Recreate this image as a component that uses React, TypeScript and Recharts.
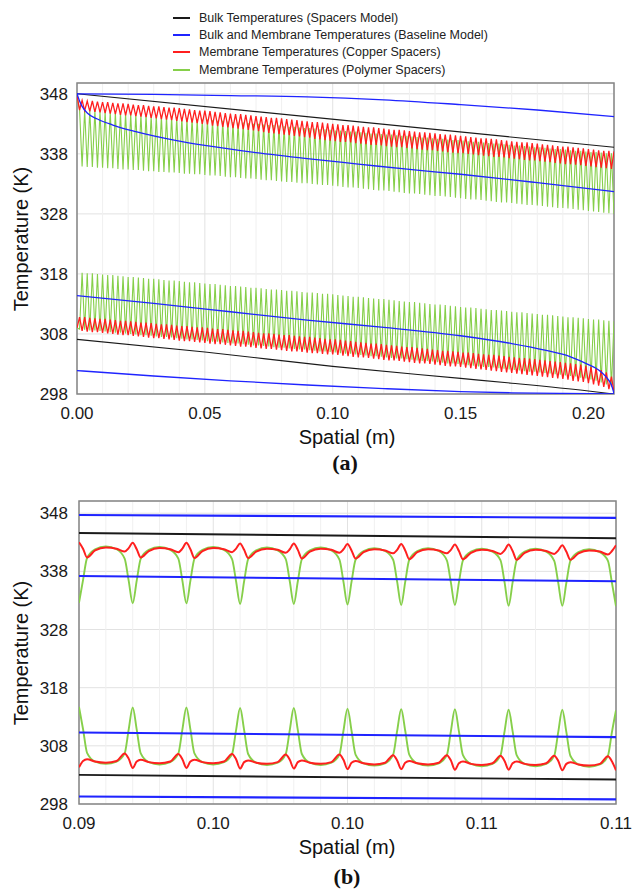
import { CartesianGrid, Line, LineChart, ReferenceArea, ReferenceLine, XAxis, YAxis } from 'recharts';

const FONT = '"Liberation Sans", Arial, Helvetica, sans-serif';
const BLACK = '#1a1a1a';
const BLUE = '#1f24ff';
const RED = '#ff1f1f';
const GREEN = '#86cf4a';
const GRID = '#e2e2e2';
const GRID_MINOR = '#f0f0f0';
const FRAME = '#858585';

const legendItems = [
  { label: 'Bulk Temperatures (Spacers Model)', color: BLACK },
  { label: 'Bulk and Membrane Temperatures (Baseline Model)', color: BLUE },
  { label: 'Membrane Temperatures (Copper Spacers)', color: RED },
  { label: 'Membrane Temperatures (Polymer Spacers)', color: GREEN },
];

const yTicks = [298, 308, 318, 328, 338, 348];

// ---------- panel (a): whole channel ----------
const xTicksA = [0, 0.05, 0.1, 0.15, 0.2];
const xLabelsA = ['0.00', '0.05', '0.10', '0.15', '0.20'];
const xMinorA = [0.01, 0.02, 0.03, 0.04, 0.06, 0.07, 0.08, 0.09, 0.11, 0.12, 0.13, 0.14, 0.16, 0.17, 0.18, 0.19];

// spacer positions (m) and the points half way between them
const spacerA = [
  0, 0.002, 0.004, 0.006, 0.008, 0.01, 0.012, 0.014, 0.016, 0.018,
  0.02, 0.022, 0.024, 0.026, 0.028, 0.03, 0.032, 0.034, 0.036, 0.038,
  0.04, 0.042, 0.044, 0.046, 0.048, 0.05, 0.052, 0.054, 0.056, 0.058,
  0.06, 0.062, 0.064, 0.066, 0.068, 0.07, 0.072, 0.074, 0.076, 0.078,
  0.08, 0.082, 0.084, 0.086, 0.088, 0.09, 0.092, 0.094, 0.096, 0.098,
  0.1, 0.102, 0.104, 0.106, 0.108, 0.11, 0.112, 0.114, 0.116, 0.118,
  0.12, 0.122, 0.124, 0.126, 0.128, 0.13, 0.132, 0.134, 0.136, 0.138,
  0.14, 0.142, 0.144, 0.146, 0.148, 0.15, 0.152, 0.154, 0.156, 0.158,
  0.16, 0.162, 0.164, 0.166, 0.168, 0.17, 0.172, 0.174, 0.176, 0.178,
  0.18, 0.182, 0.184, 0.186, 0.188, 0.19, 0.192, 0.194, 0.196, 0.198,
  0.2, 0.202, 0.204, 0.206, 0.208, 0.21,
];
const midA = [
  0.001, 0.003, 0.005, 0.007, 0.009, 0.011, 0.013, 0.015, 0.017, 0.019,
  0.021, 0.023, 0.025, 0.027, 0.029, 0.031, 0.033, 0.035, 0.037, 0.039,
  0.041, 0.043, 0.045, 0.047, 0.049, 0.051, 0.053, 0.055, 0.057, 0.059,
  0.061, 0.063, 0.065, 0.067, 0.069, 0.071, 0.073, 0.075, 0.077, 0.079,
  0.081, 0.083, 0.085, 0.087, 0.089, 0.091, 0.093, 0.095, 0.097, 0.099,
  0.101, 0.103, 0.105, 0.107, 0.109, 0.111, 0.113, 0.115, 0.117, 0.119,
  0.121, 0.123, 0.125, 0.127, 0.129, 0.131, 0.133, 0.135, 0.137, 0.139,
  0.141, 0.143, 0.145, 0.147, 0.149, 0.151, 0.153, 0.155, 0.157, 0.159,
  0.161, 0.163, 0.165, 0.167, 0.169, 0.171, 0.173, 0.175, 0.177, 0.179,
  0.181, 0.183, 0.185, 0.187, 0.189, 0.191, 0.193, 0.195, 0.197, 0.199,
  0.201, 0.203, 0.205, 0.207, 0.209,
];

// polymer spacers, hot side: dips at each spacer, plateau between
const gUpperSpacerA = [
  347.5, 335.9, 335.8, 335.8, 335.7, 335.7, 335.6, 335.6, 335.5, 335.4,
  335.4, 335.3, 335.3, 335.2, 335.1, 335.1, 335.0, 335.0, 334.9, 334.9,
  334.8, 334.7, 334.7, 334.6, 334.6, 334.5, 334.4, 334.4, 334.3, 334.2,
  334.1, 334.1, 334.0, 333.9, 333.9, 333.8, 333.7, 333.6, 333.6, 333.5,
  333.4, 333.3, 333.3, 333.2, 333.1, 333.1, 333.0, 332.9, 332.8, 332.8,
  332.7, 332.6, 332.5, 332.4, 332.4, 332.3, 332.2, 332.1, 332.0, 331.9,
  331.9, 331.8, 331.7, 331.6, 331.5, 331.4, 331.4, 331.3, 331.2, 331.1,
  331.0, 331.0, 330.9, 330.8, 330.7, 330.6, 330.5, 330.4, 330.4, 330.3,
  330.2, 330.1, 330.0, 329.9, 329.9, 329.8, 329.7, 329.6, 329.5, 329.5,
  329.4, 329.3, 329.2, 329.1, 329.0, 329.0, 328.9, 328.8, 328.7, 328.6,
  328.5, 328.4, 328.3, 328.2, 328.1, 328.0,
];
const gUpperMidA = [
  345.4, 345.3, 345.3, 345.2, 345.1, 345.1, 345.0, 344.9, 344.9, 344.8,
  344.7, 344.6, 344.6, 344.5, 344.4, 344.4, 344.3, 344.2, 344.2, 344.1,
  344.0, 343.9, 343.9, 343.8, 343.7, 343.7, 343.6, 343.5, 343.5, 343.4,
  343.3, 343.2, 343.2, 343.1, 343.0, 343.0, 342.9, 342.8, 342.8, 342.7,
  342.6, 342.5, 342.5, 342.4, 342.3, 342.3, 342.2, 342.1, 342.1, 342.0,
  341.9, 341.9, 341.8, 341.7, 341.7, 341.6, 341.5, 341.4, 341.4, 341.3,
  341.2, 341.2, 341.1, 341.0, 341.0, 340.9, 340.8, 340.7, 340.7, 340.6,
  340.5, 340.5, 340.4, 340.3, 340.3, 340.2, 340.1, 340.0, 340.0, 339.9,
  339.8, 339.7, 339.7, 339.6, 339.5, 339.4, 339.4, 339.3, 339.2, 339.1,
  339.1, 339.0, 338.9, 338.8, 338.8, 338.7, 338.6, 338.5, 338.5, 338.4,
  338.3, 338.3, 338.2, 338.1, 338.1,
];
// copper spacers, hot side
const rUpperSpacerA = [
  347.8, 346.9, 346.8, 346.8, 346.7, 346.6, 346.6, 346.5, 346.4, 346.4,
  346.3, 346.2, 346.1, 346.1, 346.0, 345.9, 345.9, 345.8, 345.7, 345.7,
  345.6, 345.5, 345.4, 345.3, 345.2, 345.2, 345.1, 345.0, 344.9, 344.8,
  344.7, 344.6, 344.6, 344.5, 344.4, 344.3, 344.2, 344.1, 344.0, 344.0,
  343.9, 343.8, 343.7, 343.6, 343.5, 343.4, 343.3, 343.3, 343.2, 343.1,
  343.0, 342.9, 342.8, 342.8, 342.7, 342.6, 342.5, 342.4, 342.4, 342.3,
  342.2, 342.1, 342.0, 342.0, 341.9, 341.8, 341.7, 341.6, 341.6, 341.5,
  341.4, 341.3, 341.2, 341.2, 341.1, 341.0, 340.9, 340.8, 340.7, 340.6,
  340.6, 340.5, 340.4, 340.3, 340.2, 340.1, 340.0, 339.9, 339.9, 339.8,
  339.7, 339.6, 339.5, 339.4, 339.3, 339.2, 339.2, 339.1, 339.0, 338.9,
  338.8, 338.7, 338.6, 338.5, 338.5, 338.4,
];
const rUpperMidA = [
  345.3, 345.2, 345.1, 345.0, 344.9, 344.8, 344.7, 344.6, 344.5, 344.4,
  344.4, 344.3, 344.2, 344.1, 344.0, 343.9, 343.8, 343.7, 343.6, 343.5,
  343.4, 343.3, 343.2, 343.1, 343.0, 342.9, 342.7, 342.6, 342.5, 342.4,
  342.3, 342.2, 342.1, 342.0, 341.9, 341.8, 341.6, 341.5, 341.4, 341.3,
  341.2, 341.1, 341.0, 340.9, 340.8, 340.7, 340.5, 340.4, 340.3, 340.2,
  340.1, 340.0, 340.0, 339.9, 339.8, 339.7, 339.6, 339.5, 339.5, 339.4,
  339.3, 339.2, 339.1, 339.1, 339.0, 338.9, 338.8, 338.7, 338.6, 338.6,
  338.5, 338.4, 338.3, 338.2, 338.1, 338.1, 338.0, 337.9, 337.8, 337.7,
  337.6, 337.5, 337.5, 337.4, 337.3, 337.2, 337.1, 337.0, 336.9, 336.9,
  336.8, 336.7, 336.6, 336.5, 336.4, 336.3, 336.3, 336.2, 336.1, 336.0,
  335.9, 335.8, 335.7, 335.6, 335.5,
];
// polymer spacers, cold side: peaks at each spacer
const gLowerSpacerA = [
  309.0, 318.2, 318.1, 318.1, 318.0, 317.9, 317.8, 317.8, 317.7, 317.6,
  317.5, 317.5, 317.4, 317.3, 317.2, 317.2, 317.1, 317.0, 316.9, 316.9,
  316.8, 316.7, 316.6, 316.6, 316.5, 316.4, 316.3, 316.3, 316.2, 316.1,
  316.0, 316.0, 315.9, 315.8, 315.7, 315.7, 315.6, 315.5, 315.4, 315.4,
  315.3, 315.2, 315.2, 315.1, 315.0, 314.9, 314.9, 314.8, 314.7, 314.7,
  314.6, 314.5, 314.4, 314.3, 314.2, 314.2, 314.1, 314.0, 313.9, 313.8,
  313.8, 313.7, 313.6, 313.5, 313.4, 313.3, 313.3, 313.2, 313.1, 313.0,
  312.9, 312.9, 312.8, 312.7, 312.6, 312.5, 312.4, 312.4, 312.3, 312.2,
  312.1, 312.0, 312.0, 311.9, 311.8, 311.7, 311.6, 311.6, 311.5, 311.4,
  311.3, 311.2, 311.2, 311.1, 311.0, 310.9, 310.8, 310.8, 310.7, 310.6,
  310.5, 310.4, 310.4, 310.3, 310.2, 310.1,
];
const gLowerMidA = [
  308.8, 308.7, 308.6, 308.6, 308.5, 308.4, 308.3, 308.2, 308.2, 308.1,
  308.0, 307.9, 307.8, 307.8, 307.7, 307.6, 307.5, 307.5, 307.4, 307.3,
  307.2, 307.1, 307.1, 307.0, 306.9, 306.8, 306.7, 306.7, 306.6, 306.5,
  306.4, 306.4, 306.3, 306.2, 306.1, 306.1, 306.0, 305.9, 305.8, 305.7,
  305.7, 305.6, 305.5, 305.4, 305.4, 305.3, 305.2, 305.1, 305.1, 305.0,
  304.9, 304.8, 304.7, 304.7, 304.6, 304.5, 304.4, 304.3, 304.3, 304.2,
  304.1, 304.0, 303.9, 303.9, 303.8, 303.7, 303.6, 303.5, 303.5, 303.4,
  303.3, 303.2, 303.1, 303.1, 303.0, 302.9, 302.8, 302.7, 302.6, 302.5,
  302.5, 302.4, 302.3, 302.2, 302.1, 302.0, 301.9, 301.8, 301.7, 301.7,
  301.6, 301.5, 301.4, 301.3, 301.2, 301.1, 301.0, 300.9, 300.7, 300.6,
  300.4, 300.2, 299.9, 299.6, 299.2,
];
// copper spacers, cold side
const rLowerSpacerA = [
  309.0, 308.5, 308.4, 308.3, 308.3, 308.2, 308.1, 308.0, 307.9, 307.8,
  307.8, 307.7, 307.6, 307.5, 307.4, 307.3, 307.3, 307.2, 307.1, 307.0,
  306.9, 306.8, 306.8, 306.7, 306.6, 306.5, 306.4, 306.3, 306.3, 306.2,
  306.1, 306.0, 305.9, 305.9, 305.8, 305.7, 305.6, 305.5, 305.5, 305.4,
  305.3, 305.2, 305.1, 305.1, 305.0, 304.9, 304.8, 304.8, 304.7, 304.6,
  304.6, 304.5, 304.4, 304.3, 304.2, 304.1, 304.1, 304.0, 303.9, 303.8,
  303.7, 303.6, 303.6, 303.5, 303.4, 303.3, 303.2, 303.1, 303.1, 303.0,
  302.9, 302.8, 302.7, 302.6, 302.6, 302.5, 302.4, 302.3, 302.2, 302.1,
  302.0, 301.9, 301.8, 301.7, 301.6, 301.5, 301.4, 301.3, 301.2, 301.1,
  301.0, 300.9, 300.8, 300.7, 300.6, 300.5, 300.4, 300.2, 300.1, 300.0,
  299.8, 299.6, 299.4, 299.2, 298.8, 298.3,
];
const rLowerMidA = [
  310.8, 310.8, 310.7, 310.6, 310.5, 310.5, 310.4, 310.3, 310.2, 310.2,
  310.1, 310.0, 309.9, 309.9, 309.8, 309.7, 309.6, 309.6, 309.5, 309.4,
  309.3, 309.3, 309.2, 309.1, 309.1, 309.0, 308.9, 308.8, 308.8, 308.7,
  308.6, 308.5, 308.5, 308.4, 308.3, 308.2, 308.1, 308.1, 308.0, 307.9,
  307.8, 307.8, 307.7, 307.6, 307.5, 307.5, 307.4, 307.3, 307.2, 307.1,
  307.1, 307.0, 306.9, 306.8, 306.7, 306.6, 306.5, 306.4, 306.4, 306.3,
  306.2, 306.1, 306.0, 305.9, 305.8, 305.8, 305.7, 305.6, 305.5, 305.4,
  305.3, 305.2, 305.2, 305.1, 305.0, 304.9, 304.9, 304.8, 304.7, 304.6,
  304.5, 304.5, 304.4, 304.3, 304.2, 304.1, 304.0, 304.0, 303.9, 303.8,
  303.7, 303.6, 303.5, 303.4, 303.3, 303.2, 303.1, 303.0, 302.9, 302.7,
  302.5, 302.3, 302.0, 301.6, 300.9,
];

// smooth curves, panel (a)
const blackTopX = [0, 0.21];
const blackTopT = [348.0, 339.1];
const blueTopX = [0, 0.03, 0.06, 0.09, 0.12, 0.15, 0.18, 0.21];
const blueTopT = [348.0, 347.9, 347.7, 347.5, 347.0, 346.2, 345.3, 344.2];
const blueMidX = [0, 0.001, 0.002, 0.004, 0.008, 0.014, 0.023, 0.039, 0.05, 0.07, 0.09, 0.11, 0.13, 0.15, 0.18, 0.21];
const blueMidT = [348.0, 346.8, 345.9, 344.8, 343.8, 342.8, 341.7, 340.2, 339.4, 338.2, 337.2, 336.3, 335.4, 334.6, 333.2, 331.7];
const blueLowMidX = [0, 0.03, 0.06, 0.09, 0.12, 0.15, 0.17, 0.183, 0.193, 0.2, 0.204, 0.207, 0.209, 0.21];
const blueLowMidT = [314.4, 313.1, 311.7, 310.3, 309.1, 307.7, 306.4, 305.3, 304.2, 302.9, 302.0, 300.8, 299.5, 298.1];
const blackLowX = [0, 0.05, 0.1, 0.15, 0.17, 0.2, 0.21];
const blackLowT = [307.1, 305.0, 302.6, 300.6, 299.8, 298.5, 298.0];
const blueLowX = [0, 0.03, 0.06, 0.09, 0.12, 0.15, 0.17, 0.19, 0.21];
const blueLowT = [301.9, 301.0, 300.2, 299.5, 298.9, 298.4, 298.2, 298.1, 298.0];

// ---------- panel (b): zoom 0.09 - 0.11 m ----------
const xTicksB = [0.09, 0.095, 0.1, 0.105, 0.11];
const xLabelsB = ['0.09', '0.10', '0.10', '0.11', '0.11'];
const xMinorB = [0.091, 0.092, 0.093, 0.094, 0.096, 0.097, 0.098, 0.099, 0.101, 0.102, 0.103, 0.104, 0.106, 0.107, 0.108, 0.109];
const spacerB = [0.09, 0.092, 0.094, 0.096, 0.098, 0.1, 0.102, 0.104, 0.106, 0.108, 0.11];
// sample points inside one spacer pitch (m past the spacer)
const offsetB = [0, 0.00015, 0.0003, 0.0006, 0.001, 0.0014, 0.0017, 0.00185];

const gUpperB = [
  332.6, 336.5, 340.3, 341.8, 342.3, 341.8, 340.2, 336.4,
  332.5, 336.4, 340.2, 341.7, 342.2, 341.7, 340.2, 336.4,
  332.5, 336.4, 340.2, 341.7, 342.2, 341.7, 340.1, 336.3,
  332.4, 336.3, 340.1, 341.6, 342.1, 341.6, 340.1, 336.3,
  332.4, 336.3, 340.1, 341.6, 342.1, 341.6, 340.0, 336.2,
  332.3, 336.2, 340.0, 341.5, 342.0, 341.5, 340.0, 336.2,
  332.2, 336.2, 340.0, 341.5, 342.0, 341.5, 339.9, 336.1,
  332.2, 336.1, 339.9, 341.4, 341.9, 341.4, 339.9, 336.1,
  332.1, 336.1, 339.9, 341.4, 341.9, 341.4, 339.8, 336.0,
  332.1, 336.0, 339.8, 341.3, 341.8, 341.3, 339.8, 336.0,
  332.0,
];
const rUpperB = [
  343.0, 341.9, 340.4, 341.6, 342.1, 341.9, 341.4, 342.0,
  342.9, 341.8, 340.4, 341.5, 342.0, 341.8, 341.3, 341.9,
  342.9, 341.8, 340.3, 341.5, 342.0, 341.8, 341.3, 341.9,
  342.8, 341.7, 340.3, 341.4, 341.9, 341.7, 341.2, 341.8,
  342.8, 341.7, 340.2, 341.4, 341.9, 341.7, 341.2, 341.8,
  342.7, 341.6, 340.2, 341.3, 341.8, 341.6, 341.1, 341.7,
  342.7, 341.6, 340.1, 341.3, 341.8, 341.6, 341.1, 341.7,
  342.6, 341.5, 340.1, 341.2, 341.7, 341.5, 341.0, 341.6,
  342.6, 341.5, 340.0, 341.2, 341.7, 341.5, 341.0, 341.6,
  342.5, 341.4, 340.0, 341.1, 341.6, 341.4, 340.9, 341.5,
  342.5,
];
const gLowerB = [
  314.7, 310.9, 306.8, 305.3, 304.9, 305.3, 306.7, 310.8,
  314.6, 310.8, 306.7, 305.2, 304.8, 305.2, 306.7, 310.8,
  314.6, 310.8, 306.7, 305.2, 304.8, 305.2, 306.6, 310.7,
  314.5, 310.7, 306.6, 305.1, 304.7, 305.1, 306.6, 310.7,
  314.5, 310.7, 306.6, 305.1, 304.7, 305.1, 306.5, 310.6,
  314.4, 310.6, 306.5, 305.0, 304.6, 305.0, 306.5, 310.6,
  314.3, 310.6, 306.5, 305.0, 304.6, 305.0, 306.4, 310.5,
  314.3, 310.5, 306.4, 304.9, 304.5, 304.9, 306.4, 310.5,
  314.2, 310.5, 306.4, 304.9, 304.5, 304.9, 306.3, 310.4,
  314.2, 310.4, 306.3, 304.8, 304.4, 304.8, 306.3, 310.4,
  314.1,
];
const rLowerB = [
  304.3, 305.4, 305.7, 305.3, 305.1, 305.4, 306.7, 305.8,
  304.2, 305.3, 305.6, 305.2, 305.0, 305.3, 306.6, 305.7,
  304.2, 305.3, 305.6, 305.2, 305.0, 305.3, 306.6, 305.7,
  304.1, 305.2, 305.5, 305.1, 304.9, 305.2, 306.5, 305.6,
  304.1, 305.2, 305.5, 305.1, 304.9, 305.2, 306.5, 305.6,
  304.0, 305.1, 305.4, 305.0, 304.8, 305.1, 306.4, 305.5,
  304.0, 305.1, 305.4, 305.0, 304.8, 305.1, 306.4, 305.5,
  303.9, 305.0, 305.3, 304.9, 304.7, 305.0, 306.3, 305.4,
  303.9, 305.0, 305.3, 304.9, 304.7, 305.0, 306.3, 305.4,
  303.8, 304.9, 305.2, 304.8, 304.6, 304.9, 306.2, 305.3,
  303.8,
];

const straightX = [0.09, 0.11];
const blueTopB = [347.7, 347.2];
const blackTopB = [344.6, 343.7];
const blueMidB = [337.2, 336.3];
const blueLowMidB = [310.3, 309.5];
const blackLowB = [303.0, 302.2];
const blueLowB = [299.3, 298.8];

type Row = { x: number; gU: number; rU: number; gL: number; rL: number };

const rowsA: Row[] = [];
spacerA.forEach((x, k) => {
  rowsA.push({ x, gU: gUpperSpacerA[k], rU: rUpperSpacerA[k], gL: gLowerSpacerA[k], rL: rLowerSpacerA[k] });
  if (k < midA.length) {
    rowsA.push({ x: midA[k], gU: gUpperMidA[k], rU: rUpperMidA[k], gL: gLowerMidA[k], rL: rLowerMidA[k] });
  }
});

const xB: number[] = [];
spacerB.forEach((c, p) => {
  offsetB.forEach((o, j) => {
    if (p < spacerB.length - 1 || j === 0) xB.push(c + o);
  });
});
const rowsB: Row[] = xB.map((x, i) => ({ x, gU: gUpperB[i], rU: rUpperB[i], gL: gLowerB[i], rL: rLowerB[i] }));

const pts = (xs: number[], ts: number[]) => xs.map((x, i) => ({ x, t: ts[i] }));

const tickStyle = { fontSize: 17, fill: '#1a1a1a', fontFamily: FONT };

type Curve = { data: { x: number; t: number }[]; color: string };

type PanelProps = {
  top: number;
  height: number;
  margin: { top: number; right: number; bottom: number; left: number };
  rows: Row[];
  xDomain: [number, number];
  yMax: number;
  xTicks: number[];
  xLabels: string[];
  xMinor: number[];
  curves: Curve[];
  waveType: 'linear' | 'monotone';
  wideLines: boolean;
  yTickMargin: number;
};

const Panel = ({ top, height, margin, rows, xDomain, yMax, xTicks, xLabels, xMinor, curves, waveType, wideLines, yTickMargin }: PanelProps) => {
  const gw = wideLines ? 1.9 : 1.1;
  const rw = wideLines ? 2 : 1.3;
  const cw = wideLines ? 2.1 : 1.3;
  return (
    <div style={{ position: 'absolute', left: 0, top }}>
      <LineChart width={634} height={height} data={rows} margin={margin}>
        <CartesianGrid stroke={GRID} strokeWidth={1} />
        {xMinor.map((v) => (
          <ReferenceLine key={v} x={v} stroke={GRID_MINOR} strokeWidth={1} zIndex={-50} />
        ))}
        <XAxis
          dataKey="x"
          type="number"
          domain={xDomain}
          ticks={xTicks}
          interval={0}
          allowDataOverflow
          tickFormatter={(_v: number, i: number) => xLabels[i]}
          axisLine={false}
          tickLine={false}
          tickMargin={6.5}
          height={30}
          tick={tickStyle}
        />
        <YAxis
          type="number"
          domain={[298, yMax]}
          ticks={yTicks}
          interval={0}
          allowDataOverflow
          axisLine={false}
          tickLine={false}
          tickMargin={yTickMargin}
          width={60}
          tick={tickStyle}
        />
        <Line dataKey="gU" type={waveType} stroke={GREEN} strokeWidth={gw} dot={false} isAnimationActive={false} />
        <Line dataKey="gL" type={waveType} stroke={GREEN} strokeWidth={gw} dot={false} isAnimationActive={false} />
        <Line dataKey="rU" type={waveType} stroke={RED} strokeWidth={rw} dot={false} isAnimationActive={false} />
        <Line dataKey="rL" type={waveType} stroke={RED} strokeWidth={rw} dot={false} isAnimationActive={false} />
        {curves.map((c, i) => (
          <Line
            key={i}
            data={c.data}
            dataKey="t"
            type="monotone"
            stroke={c.color}
            strokeWidth={c.color === BLACK ? cw - 0.2 : cw}
            dot={false}
            isAnimationActive={false}
          />
        ))}
        <ReferenceArea x1={xDomain[0]} x2={xDomain[1]} y1={298} y2={yMax} fill="none" stroke={FRAME} strokeWidth={1.5} ifOverflow="visible" />
      </LineChart>
    </div>
  );
};

const Label = ({ x, y, text, size, rotate, bold, serif }: { x: number; y: number; text: string; size: number; rotate?: boolean; bold?: boolean; serif?: boolean }) => (
  <div
    style={{
      position: 'absolute',
      left: x,
      top: y,
      transform: `translate(-50%, -50%)${rotate ? ' rotate(-90deg)' : ''}`,
      fontSize: size,
      lineHeight: 1,
      whiteSpace: 'nowrap',
      fontFamily: serif ? '"Liberation Serif", "Times New Roman", serif' : FONT,
      fontWeight: bold ? 700 : 400,
      color: '#111',
    }}
  >
    {text}
  </div>
);

export default function App() {
  const curvesA: Curve[] = [
    { data: pts(blackTopX, blackTopT), color: BLACK },
    { data: pts(blackLowX, blackLowT), color: BLACK },
    { data: pts(blueTopX, blueTopT), color: BLUE },
    { data: pts(blueMidX, blueMidT), color: BLUE },
    { data: pts(blueLowMidX, blueLowMidT), color: BLUE },
    { data: pts(blueLowX, blueLowT), color: BLUE },
  ];
  const curvesB: Curve[] = [
    { data: pts(straightX, blackTopB), color: BLACK },
    { data: pts(straightX, blackLowB), color: BLACK },
    { data: pts(straightX, blueTopB), color: BLUE },
    { data: pts(straightX, blueMidB), color: BLUE },
    { data: pts(straightX, blueLowMidB), color: BLUE },
    { data: pts(straightX, blueLowB), color: BLUE },
  ];

  return (
    <div style={{ position: 'absolute', left: 0, top: 0, width: 634, height: 889, background: '#fff', overflow: 'hidden' }}>
      <Panel
        top={0}
        height={470}
        margin={{ top: 83, right: 20, bottom: 46, left: 17 }}
        rows={rowsA}
        xDomain={[0, 0.21]}
        yMax={349.8}
        xTicks={xTicksA}
        xLabels={xLabelsA}
        xMinor={xMinorA}
        curves={curvesA}
        waveType="linear"
        wideLines={false}
        yTickMargin={3}
      />
      <Panel
        top={480}
        height={400}
        margin={{ top: 21, right: 18, bottom: 46, left: 19 }}
        rows={rowsB}
        xDomain={[0.09, 0.11]}
        yMax={350.1}
        xTicks={xTicksB}
        xLabels={xLabelsB}
        xMinor={xMinorB}
        curves={curvesB}
        waveType="monotone"
        wideLines
        yTickMargin={5}
      />

      {legendItems.map((it, i) => (
        <div
          key={it.label}
          style={{ position: 'absolute', left: 173, top: [18, 35, 52.3, 70][i] - 8, height: 16, display: 'flex', alignItems: 'center' }}
        >
          <div style={{ width: 17, height: 2, background: it.color, marginRight: 9 }} />
          <span style={{ fontFamily: FONT, fontSize: 12.5, color: '#222', whiteSpace: 'nowrap' }}>{it.label}</span>
        </div>
      ))}

      <Label x={21} y={238.5} text="Temperature (K)" size={20} rotate />
      <Label x={347} y={437} text="Spatial (m)" size={20} />
      <Label x={345} y={463} text="(a)" size={22} bold serif />

      <Label x={21} y={652.5} text="Temperature (K)" size={20} rotate />
      <Label x={347} y={847} text="Spatial (m)" size={20} />
      <Label x={347} y={877} text="(b)" size={22} bold serif />
    </div>
  );
}
